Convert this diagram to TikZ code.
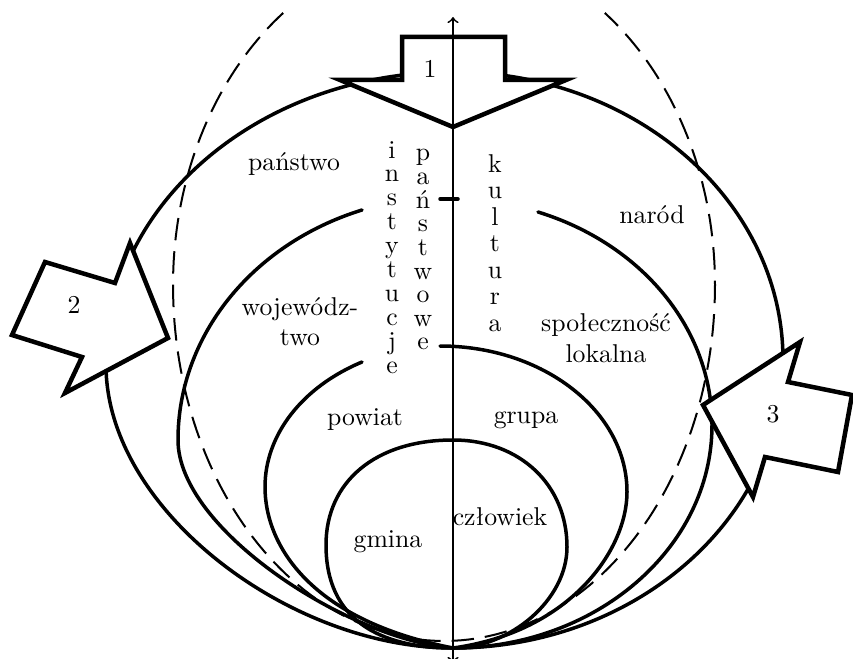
\documentclass[tikz,border=0pt]{standalone}
\usepackage{fontspec}
\begin{document}
\begin{tikzpicture}[x=0.4pt,y=-0.4pt,
  curve/.style={line width=1.4pt, line join=round, line cap=round},
  arrowshape/.style={line width=1.8pt, fill=white, line join=miter},
  lbl/.style={font=\fontsize{10.3}{12}\selectfont, inner sep=0pt, anchor=base},
  dashcurve/.style={line width=0.8pt, dash pattern=on 9pt off 4.4pt},
  axisline/.style={line width=0.7pt}]
\useasboundingbox (0,0) rectangle (853,659);

% outer curve (panstwo / narod)
\draw[curve] (453,72) .. controls (261,72) and (106,203) .. (106,365)
  .. controls (106,510) and (290,648) .. (453,648)
  .. controls (635,648) and (783,519) .. (783,360)
  .. controls (783,201) and (635,72) .. (453,72) -- cycle;

% second level (wojewodztwo / spolecznosc lokalna)
\draw[curve] (362,210) .. controls (252,244) and (178,336) .. (178,440)
  .. controls (178,530) and (350,640) .. (453,648)
  .. controls (596,648) and (712,548) .. (712,425)
  .. controls (712,329) and (642,244) .. (538,212);

% third level (powiat / grupa)
\draw[curve] (440,346) .. controls (543,346) and (627,411) .. (627,492)
  .. controls (627,550) and (570,632) .. (453,648)
  .. controls (310,620) and (265,545) .. (265,487)
  .. controls (265,435) and (302,387) .. (362,362);

% innermost (gmina / czlowiek)
\draw[curve] (453,440) .. controls (375,440) and (326,482) .. (326,545)
  .. controls (326,620) and (380,648) .. (453,648)
  .. controls (510,648) and (567,600) .. (567,547)
  .. controls (567,485) and (520,440) .. (453,440) -- cycle;

% short tick
\draw[curve] (440,199) -- (458,199);

% dashed ellipse
\draw[dashcurve] plot[domain=233.6:180, samples=40, variable=\t] ({444+271*cos(\t)}, {285+338*sin(\t)})
  -- plot[domain=180:0, samples=120, variable=\t] ({444+271*cos(\t)}, {285+356*sin(\t)})
  -- plot[domain=360:306.4, samples=40, variable=\t] ({444+271*cos(\t)}, {285+338*sin(\t)});

% block arrows
\draw[arrowshape] (453,127) -- (340,80) -- (402,80) -- (402,37) -- (505,37) -- (505,80) -- (566,80) -- cycle;
\draw[arrowshape] (45,262) -- (115,283) -- (130,243) -- (168,338) -- (65,393) -- (82,357) -- (12,335) -- cycle;
\draw[arrowshape] (703,405) -- (800,342) -- (788,382) -- (852,395) -- (838,472) -- (765,457) -- (753,497) -- cycle;

% axis
\draw[axisline,<->] (453,663) -- (453,17);

% labels
\node[lbl] (n1) at (430,78) {1};
\node[lbl] (n2) at (74,313) {2};
\node[lbl] (n3) at (773,422) {3};
\node[lbl] (panstwo) at (294,171) {państwo};
\node[lbl] (narod) at (652,223) {naród};
\node[lbl] (woj1) at (300,315) {wojewódz-};
\node[lbl] (woj2) at (300,345) {two};
\node[lbl] (spol1) at (606,331) {społeczność};
\node[lbl] (spol2) at (606,362) {lokalna};
\node[lbl] (powiat) at (365,425) {powiat};
\node[lbl] (grupa) at (526,423) {grupa};
\node[lbl] (gmina) at (388,547) {gmina};
\node[lbl] (czlowiek) at (500,525) {człowiek};

\foreach \c [count=\i from 0] in {i,n,s,t,y,t,u,c,j,e}
  \node[lbl] (ins\i) at (392,{158+23.9*\i}) {\c};
\foreach \c [count=\i from 0] in {p,a,ń,s,t,w,o,w,e}
  \node[lbl] (pan\i) at (423,{161+23.6*\i}) {\c};
\foreach \c [count=\i from 0] in {k,u,l,t,u,r,a}
  \node[lbl] (kul\i) at (495,{172+26.5*\i}) {\c};
\end{tikzpicture}
\end{document}
